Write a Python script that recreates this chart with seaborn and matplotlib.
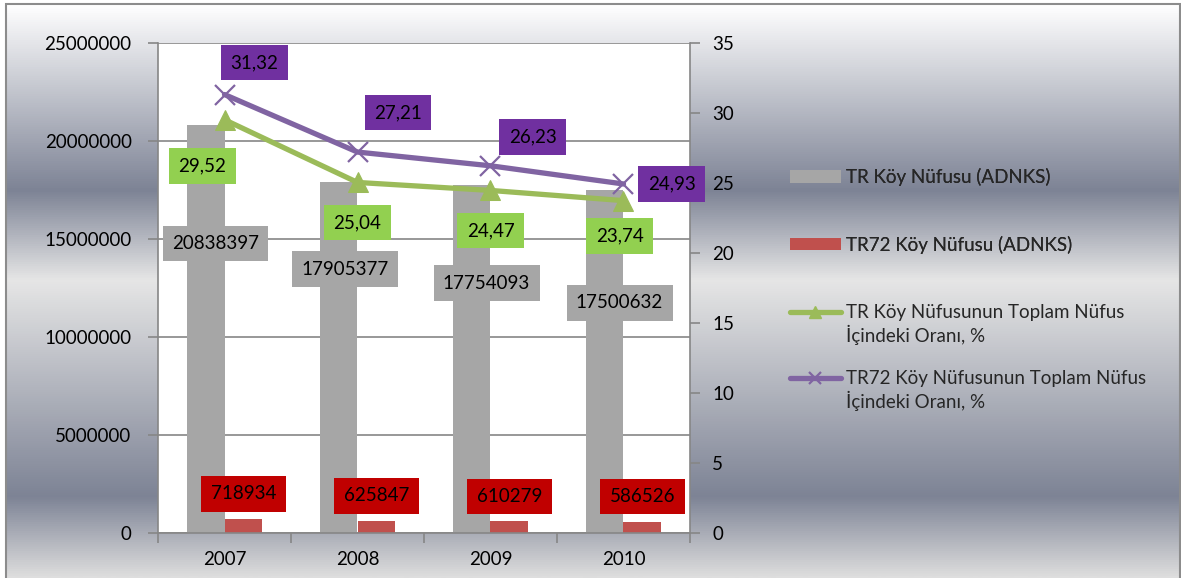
import numpy as np
import pandas as pd
import matplotlib
matplotlib.use('Agg')
import matplotlib.pyplot as plt
import matplotlib.transforms as mtransforms
import seaborn as sns
from matplotlib.lines import Line2D
from matplotlib.patches import Patch, Rectangle
from matplotlib.colors import LinearSegmentedColormap
from matplotlib.legend_handler import HandlerLine2D

# ---------------- data ----------------
years = ['2007', '2008', '2009', '2010']
tr_pop = [20838397, 17905377, 17754093, 17500632]
tr72_pop = [718934, 625847, 610279, 586526]
tr_ratio = [29.52, 25.04, 24.47, 23.74]
tr72_ratio = [31.32, 27.21, 26.23, 24.93]
series_names = ['TR Köy Nüfusu (ADNKS)',
                'TR72 Köy Nüfusu (ADNKS)',
                'TR Köy Nüfusunun Toplam Nüfus\nİçindeki Oranı, %',
                'TR72 Köy Nüfusunun Toplam Nüfus\nİçindeki Oranı, %']
left_ticks = [0, 5000000, 10000000, 15000000, 20000000, 25000000]
right_ticks = [0, 5, 10, 15, 20, 25, 30, 35]

# label offsets (pixels) -- placement only
gray_off = [(10, -119), (6.5, -87), (15, -98), (15, -113)]
red_off = [(0, 25), (0, 25), (0, 24.5), (0, 25)]
purple_off = [(30, 32), (40.5, 39.5), (42, 29), (48, 0)]
green_off = [(-22, -46), (0, -40), (0, -40), (-4, -35)]

# ---------------- style ----------------
GRAY, RED, GREEN, PURPLE = '#a6a6a6', '#c0504d', '#9bbb59', '#8064a2'
GRAY_BOX, RED_BOX, GREEN_BOX, PURPLE_BOX = '#a6a6a6', '#c00000', '#92d050', '#7030a0'
AXC = '#868686'
FS = 13.5
PAD = 0.5

sns.set_theme(style='white')
plt.rcParams['font.family'] = ['Lato', 'DejaVu Sans']

W, H = 1181, 578
fig = plt.figure(figsize=(W / 100, H / 100), dpi=100)
fig.patch.set_facecolor('white')

# background gradient inside the chart border
bg = fig.add_axes([6 / W, 0, (1180 - 6) / W, (H - 4) / H], zorder=-5)
cmap = LinearSegmentedColormap.from_list(
    'bg', [(0.0, '#ffffff'), (0.324, '#7d8395'), (0.481, '#e6e6e6'),
           (0.859, '#7d8395'), (1.0, '#dedede')])
bg.imshow(np.linspace(0, 1, 512).reshape(-1, 1), cmap=cmap, aspect='auto',
          extent=[0, 1, 0, 1], origin='upper')
bg.set_axis_off()
fig.add_artist(Rectangle((6 / W, -0.01), (1180 - 6) / W, (H - 4) / H + 0.01,
                         transform=fig.transFigure, fill=False,
                         ec='#8c8c8c', lw=1.5, zorder=10))

ax = fig.add_axes([158 / W, 45 / H, 532 / W, 490 / H], zorder=1)
ax.set_facecolor('white')

df = pd.DataFrame({
    'year': years * 2,
    'value': tr_pop + tr72_pop,
    'series': [series_names[0]] * len(years) + [series_names[1]] * len(years),
})
sns.barplot(data=df, x='year', y='value', hue='series', order=years,
            hue_order=series_names[:2], palette=[GRAY, RED], width=0.57,
            saturation=1, linewidth=0, gap=0, legend=False, ax=ax)

ax.set_xlim(-0.5, len(years) - 0.5)
ax.set_ylim(0, 25000000)
ax.set_yticks(left_ticks, labels=[str(t) for t in left_ticks])
ax.set_xticks(np.arange(len(years) + 1) - 0.5, labels=[''] * (len(years) + 1))
ax.set_xticks(np.arange(len(years)), labels=years, minor=True)
ax.set_xlabel('')
ax.set_ylabel('')
ax.yaxis.grid(True, color=AXC, lw=1.2)
ax.xaxis.grid(False)
ax.set_axisbelow(True)
for s in ['left', 'bottom']:
    ax.spines[s].set_color(AXC)
    ax.spines[s].set_linewidth(1.2)
ax.spines['top'].set_visible(False)
ax.spines['right'].set_visible(False)
ax.tick_params(axis='y', which='major', left=True, length=7, width=1.2,
               color=AXC, pad=12, labelsize=FS, labelcolor='black')
ax.tick_params(axis='x', which='major', bottom=True, length=7, width=1.2,
               color=AXC)
ax.tick_params(axis='x', which='minor', bottom=True, length=0, pad=13,
               labelsize=FS, labelcolor='black')

# bar labels
gray_bars = ax.containers[0]
red_bars = ax.containers[1]
for bar, v, off in zip(gray_bars, tr_pop, gray_off):
    ax.annotate(str(v), (bar.get_x() + bar.get_width() / 2, bar.get_height()),
                xytext=off, textcoords='offset pixels', ha='center', va='center',
                fontsize=FS, color='black', zorder=5,
                bbox=dict(boxstyle=f'square,pad={PAD}', fc=GRAY_BOX, ec='none'))
for bar, v, off in zip(red_bars, tr72_pop, red_off):
    ax.annotate(str(v), (bar.get_x() + bar.get_width() / 2, bar.get_height()),
                xytext=off, textcoords='offset pixels', ha='center', va='center',
                fontsize=FS, color='black', zorder=5,
                bbox=dict(boxstyle=f'square,pad={PAD}', fc=RED_BOX, ec='none'))

# lines on secondary axis
ax2 = ax.twinx()
ax2.set_zorder(2)
ax2.patch.set_visible(False)
xpos = np.arange(len(years))
sns.lineplot(x=xpos, y=tr_ratio, ax=ax2, color=GREEN, lw=3.8, marker='^',
             markersize=14, markeredgecolor=GREEN, legend=False)
sns.lineplot(x=xpos, y=tr72_ratio, ax=ax2, color=PURPLE, lw=3.8, marker='x',
             markersize=14, markeredgewidth=1.6, markeredgecolor=PURPLE,
             legend=False)
ax2.set_xlim(-0.5, len(years) - 0.5)
ax2.set_ylim(0, 35)
ax2.set_yticks(right_ticks, labels=[str(t) for t in right_ticks])
ax2.grid(False)
for s in ['top', 'left', 'bottom']:
    ax2.spines[s].set_visible(False)
ax2.spines['right'].set_color(AXC)
ax2.spines['right'].set_linewidth(1.2)
ax2.tick_params(axis='y', right=True, length=7, width=1.2, color=AXC, pad=9,
                labelsize=FS, labelcolor='black')
ax2.set_ylabel('')

for x, v, off in zip(xpos, tr72_ratio, purple_off):
    ax2.annotate(f'{v:.2f}'.replace('.', ','), (x, v), xytext=off,
                 textcoords='offset pixels', ha='center', va='center',
                 fontsize=FS, color='black', zorder=5,
                 bbox=dict(boxstyle=f'square,pad={PAD}', fc=PURPLE_BOX, ec='none'))
for x, v, off in zip(xpos, tr_ratio, green_off):
    ax2.annotate(f'{v:.2f}'.replace('.', ','), (x, v), xytext=off,
                 textcoords='offset pixels', ha='center', va='center',
                 fontsize=FS, color='black', zorder=5,
                 bbox=dict(boxstyle=f'square,pad={PAD}', fc=GREEN_BOX, ec='none'))


# legend: line handles sit on the first text line, as in the reference
class FirstLineHandler(HandlerLine2D):
    def __init__(self, shift, **kw):
        super().__init__(**kw)
        self.shift = shift

    def create_artists(self, legend, orig_handle, xdescent, ydescent, width,
                       height, fontsize, trans):
        arts = super().create_artists(legend, orig_handle, xdescent, ydescent,
                                      width, height, fontsize, trans)
        t = mtransforms.Affine2D().translate(0, self.shift) + trans
        for a in arts:
            a.set_transform(t)
        return arts


bar_handles = [Patch(fc=GRAY, ec='none'), Patch(fc=RED, ec='none')]
line_handles = [Line2D([], [], color=GREEN, lw=3.8, marker='^', ms=8),
                Line2D([], [], color=PURPLE, lw=3.8, marker='x', ms=8, mew=1.6)]
common = dict(loc='upper left', frameon=False, fontsize=FS, handlelength=2.7,
              handleheight=0.65, handletextpad=0.3, borderpad=0,
              borderaxespad=0)
leg1 = fig.legend(bar_handles, series_names[:2],
                  bbox_to_anchor=(790 / W, (H - 168) / H),
                  labelspacing=2.65, **common)
fig.legend(line_handles, series_names[2:],
           bbox_to_anchor=(790 / W, (H - 304) / H), labelspacing=1.37,
           handler_map={h: FirstLineHandler(9.4) for h in line_handles},
           **common)
fig.add_artist(leg1)

fig.savefig('out.png', dpi=100)
